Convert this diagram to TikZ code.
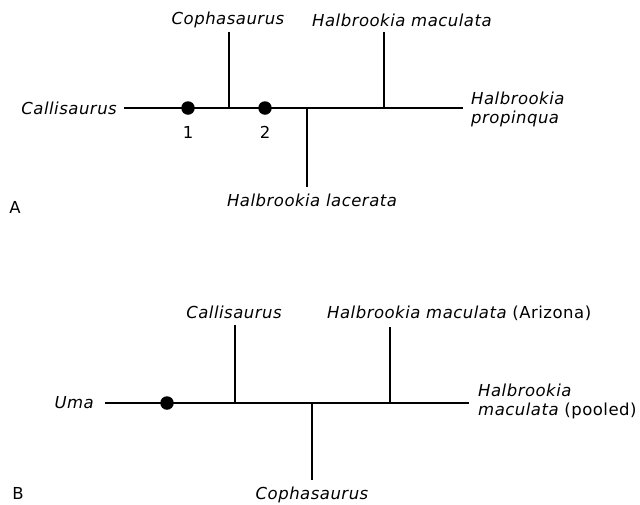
\documentclass[tikz,border=0pt]{standalone}
\usepackage{fontspec}
\setmainfont{DejaVu Sans}[ItalicFont={DejaVu Sans Oblique}, LetterSpace=3]
\begin{document}
\begin{tikzpicture}[x=1pt,y=-1pt,
  branch/.style={line width=1.7pt},
  dot/.style={circle,fill=black,inner sep=0pt,minimum size=13.5pt},
  lab/.style={inner sep=0pt,font=\fontsize{16.5}{19}\selectfont\itshape},
  num/.style={inner sep=0pt,font=\fontsize{16.5}{19}\selectfont}]
\useasboundingbox[fill=white] (0,0) rectangle (640,504);
% ---------- Panel A ----------
\coordinate (aL) at (124,108);
\coordinate (aR) at (463,108);
\coordinate (aj1) at (229,108); \coordinate (aj1t) at (229,32);
\coordinate (aj2) at (307,108); \coordinate (aj2b) at (307,187);
\coordinate (aj3) at (384,108); \coordinate (aj3t) at (384,32);
\draw[branch] (aL) -- (aR);
\draw[branch] (aj1) -- (aj1t);
\draw[branch] (aj2) -- (aj2b);
\draw[branch] (aj3) -- (aj3t);
\node[dot] (ad1) at (188,108) {};
\node[dot] (ad2) at (265,108) {};
\node[num] (an1) at (188,132) {1};
\node[num] (an2) at (265,132) {2};
\node[lab,anchor=east] (acall) at (117,108) {Callisaurus};
\node[lab] (acoph) at (228,20) {Cophasaurus};
\node[lab,anchor=west] (ahm) at (312,20) {Halbrookia maculata};
\node[lab,anchor=west,align=left] (ahp) at (471,109) {Halbrookia\\propinqua};
\node[lab] (ahl) at (312,200) {Halbrookia lacerata};
\node[num] (aA) at (15,207) {A};
% ---------- Panel B ----------
\coordinate (bL) at (105,403);
\coordinate (bR) at (469,403);
\coordinate (bj1) at (235,403); \coordinate (bj1t) at (235,325);
\coordinate (bj2) at (312,403); \coordinate (bj2b) at (312,480);
\coordinate (bj3) at (390,403); \coordinate (bj3t) at (390,327);
\draw[branch] (bL) -- (bR);
\draw[branch] (bj1) -- (bj1t);
\draw[branch] (bj2) -- (bj2b);
\draw[branch] (bj3) -- (bj3t);
\node[dot] (bd1) at (167,403) {};
\node[lab,anchor=east] (buma) at (94,403) {Uma};
\node[lab] (bcall) at (234,312) {Callisaurus};
\node[lab,anchor=west] (bhma) at (327,313) {Halbrookia maculata \upshape(Arizona)};
\node[lab,anchor=west,align=left] (bhmp) at (478,401) {Halbrookia\\maculata \upshape(pooled)};
\node[lab] (bcoph) at (312,495) {Cophasaurus};
\node[num] (bB) at (18,493) {B};
\end{tikzpicture}
\end{document}
